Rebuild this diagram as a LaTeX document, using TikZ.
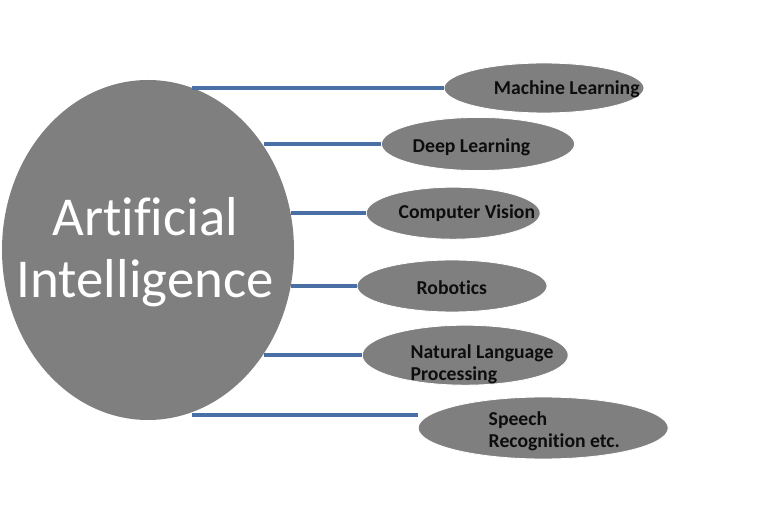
\documentclass[tikz,border=0pt]{standalone}
\usepackage{fontspec}
\setmainfont{Carlito}[Ligatures=CommonOff]
\usetikzlibrary{shapes.geometric}
\definecolor{cgrey}{HTML}{7F7F7F}
\definecolor{clink}{HTML}{4A6FA5}
\tikzset{
  every picture/.style={line width=1pt},
  hub/.style={ellipse, fill=cgrey, draw=none, inner sep=0pt, minimum width=7.3cm, minimum height=8.5cm},
  hubtext/.style={text=white, align=center, font=\fontsize{39}{44}\selectfont},
  leaf/.style={ellipse, fill=cgrey, draw=white, line width=0.6pt, inner sep=0pt},
  leaftext/.style={anchor=west, inner sep=0pt, align=left, text=black!95, font=\fontsize{14}{15.8}\selectfont\bfseries},
  link/.style={draw=clink, line width=2.6pt},
}

\begin{document}
\begin{tikzpicture}
  \useasboundingbox (0,0) rectangle (19.2,-13);

  \node[hub] (ai) at (3.7,-6.25) {};
  \node[hubtext] (ait) at (3.63,-6.3) {Artificial\\Intelligence};

  \node[leaf, minimum width=5cm, minimum height=1.25cm] (ml) at (13.6,-2.2) {};
  \node[leaftext] (mlt) at (12.33,-2.23) {Machine Learning};

  \node[leaf, minimum width=4.83cm, minimum height=1.33cm] (dl) at (11.95,-3.6) {};
  \node[leaftext] (dlt) at (10.3,-3.68) {Deep Learning};

  \node[leaf, minimum width=4.35cm, minimum height=1.3cm] (cv) at (11.33,-5.33) {};
  \node[leaftext] (cvt) at (9.95,-5.33) {Computer Vision};

  \node[leaf, minimum width=4.75cm, minimum height=1.3cm] (rb) at (11.3,-7.15) {};
  \node[leaftext] (rbt) at (10.4,-7.18) {Robotics};

  \node[leaf, minimum width=5.15cm, minimum height=1.5cm] (nlp) at (11.63,-8.88) {};
  \node[leaftext] (nlpt) at (10.25,-9.1) {Natural Language\\Processing};

  \node[leaf, minimum width=6.25cm, minimum height=1.55cm] (sr) at (13.58,-10.7) {};
  \node[leaftext] (srt) at (12.2,-10.78) {Speech\\Recognition etc.};

  \draw[link] (ml.west) -- (ml.west -| ai.75);
  \draw[link] (dl.west) -- (dl.west -| ai.42);
  \draw[link] (cv.west) -- (cv.west -| ai.15);
  \draw[link] (rb.west) -- (rb.west -| ai.-15);
  \draw[link] (nlp.west) -- (nlp.west -| ai.-42);
  \draw[link] (sr.west |- 0,-10.38) -- (ai.-75 |- 0,-10.38);
\end{tikzpicture}
\end{document}
